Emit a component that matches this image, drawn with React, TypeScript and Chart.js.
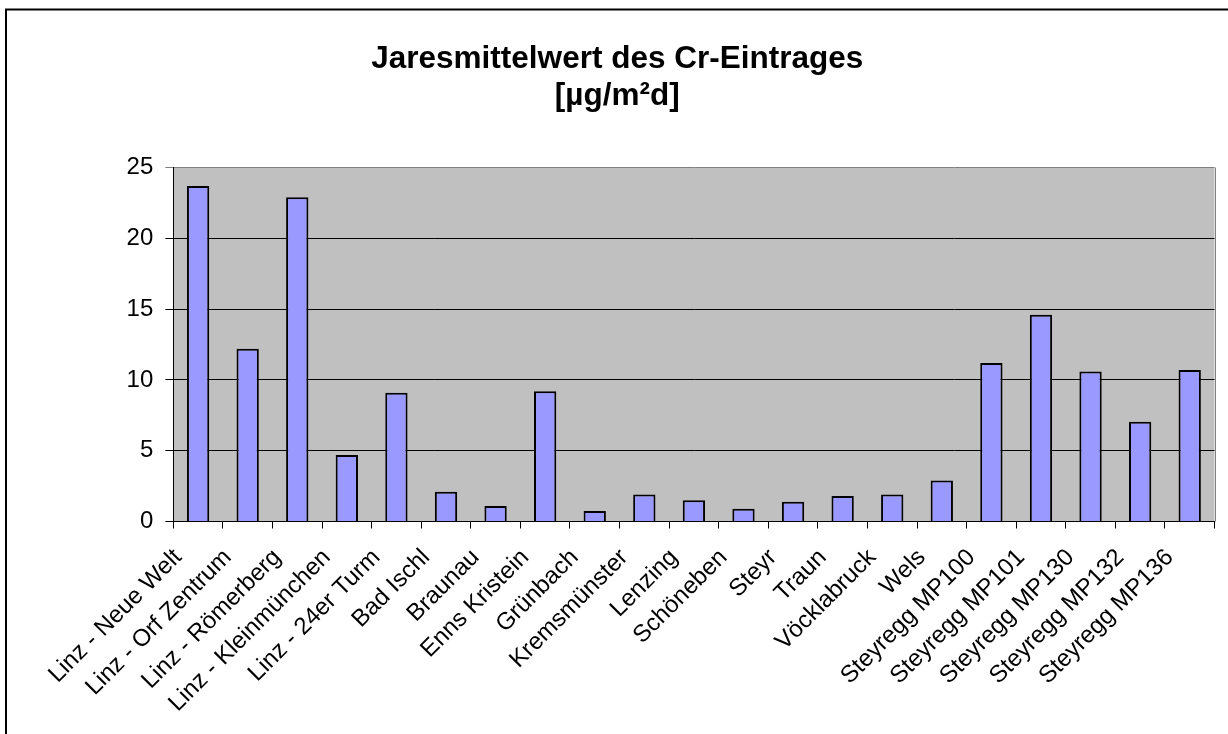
import React, { useEffect, useRef } from "react";
import { Chart, registerables } from "chart.js";

Chart.register(...registerables);

const categories: string[] = [
  "Linz - Neue Welt",
  "Linz - Orf Zentrum",
  "Linz - Römerberg",
  "Linz - Kleinmünchen",
  "Linz - 24er Turm",
  "Bad Ischl",
  "Braunau",
  "Enns Kristein",
  "Grünbach",
  "Kremsmünster",
  "Lenzing",
  "Schöneben",
  "Steyr",
  "Traun",
  "Vöcklabruck",
  "Wels",
  "Steyregg MP100",
  "Steyregg MP101",
  "Steyregg MP130",
  "Steyregg MP132",
  "Steyregg MP136",
];

const crValues: number[] = [
  23.7, 12.2, 22.9, 4.7, 9.1, 2.1, 1.1, 9.2, 0.75, 1.9, 1.5, 0.9, 1.4, 1.8, 1.9,
  2.9, 11.2, 14.6, 10.6, 7.05, 10.7,
];

const titleLines: string[] = ["Jaresmittelwert des Cr-Eintrages", "[µg/m²d]"];

const yMin = 0;
const yMax = 25;
const yStep = 5;

const FONT = "'Liberation Sans', Arial, sans-serif";

const frameAndBackground = {
  id: "frameAndBackground",
  beforeDraw(chart: any) {
    const { ctx, chartArea } = chart;
    ctx.save();
    ctx.fillStyle = "#ffffff";
    ctx.fillRect(0, 0, chart.width, chart.height);
    ctx.fillStyle = "#C0C0C0";
    ctx.fillRect(
      chartArea.left,
      chartArea.top,
      chartArea.right - chartArea.left,
      chartArea.bottom - chartArea.top
    );
    ctx.restore();
  },
  afterDraw(chart: any) {
    const { ctx, chartArea } = chart;
    ctx.save();
    ctx.strokeStyle = "#808080";
    ctx.lineWidth = 1;
    ctx.beginPath();
    ctx.moveTo(Math.round(chartArea.right) + 0.5, chartArea.top);
    ctx.lineTo(Math.round(chartArea.right) + 0.5, chartArea.bottom);
    ctx.stroke();
    ctx.strokeStyle = "#000000";
    ctx.lineWidth = 2;
    ctx.strokeRect(6, 9.5, chart.width + 50, chart.height + 50);
    ctx.restore();
  },
};

export default function App() {
  const canvasRef = useRef<HTMLCanvasElement | null>(null);

  useEffect(() => {
    if (!canvasRef.current) return;
    const chart = new Chart(canvasRef.current, {
      type: "bar",
      data: {
        labels: categories,
        datasets: [
          {
            label: "Cr",
            data: crValues,
            backgroundColor: "#9999FF",
            borderColor: "#000000",
            borderWidth: 2,
            barPercentage: 0.45,
            categoryPercentage: 1,
          },
        ],
      },
      options: {
        animation: false,
        responsive: false,
        devicePixelRatio: 1,
        layout: { padding: { left: 20, right: 13.5, top: 0, bottom: 0 } },
        plugins: {
          legend: { display: false },
          tooltip: { enabled: false },
          title: {
            display: true,
            text: titleLines,
            color: "#000000",
            font: { family: FONT, size: 31.5, weight: "bold", lineHeight: 1.2 },
            padding: { top: 40, bottom: 51.9 },
          },
        },
        scales: {
          x: {
            offset: true,
            grid: {
              display: true,
              drawOnChartArea: false,
              drawTicks: true,
              tickLength: 7,
              color: "#000000",
              offset: true,
            },
            border: { display: true, color: "#000000", width: 1 },
            ticks: {
              autoSkip: false,
              maxRotation: 45,
              minRotation: 45,
              color: "#000000",
              font: { family: FONT, size: 24 },
              padding: 15,
              labelOffset: -20,
            },
            afterFit(scale: any) {
              scale.height = 212.5;
            },
          },
          y: {
            min: yMin,
            max: yMax,
            ticks: {
              stepSize: yStep,
              color: "#000000",
              font: { family: FONT, size: 24 },
              padding: 12,
            },
            grid: {
              color: (c: any) => (c.tick && c.tick.value === yMax ? "#808080" : "#000000"),
              tickColor: (c: any) =>
                c.tick && c.tick.value === yMax ? "#808080" : "#000000",
              tickLength: 8,
              lineWidth: 1,
            },
            border: { display: true, color: "#000000", width: 1 },
            afterFit(scale: any) {
              scale.width = 153.3;
            },
          },
        },
      },
      plugins: [frameAndBackground],
    });
    return () => chart.destroy();
  }, []);

  return (
    <div style={{ position: "absolute", left: 0, top: 0, width: 1228, height: 734 }}>
      <canvas ref={canvasRef} width={1228} height={734} style={{ display: "block" }} />
    </div>
  );
}
